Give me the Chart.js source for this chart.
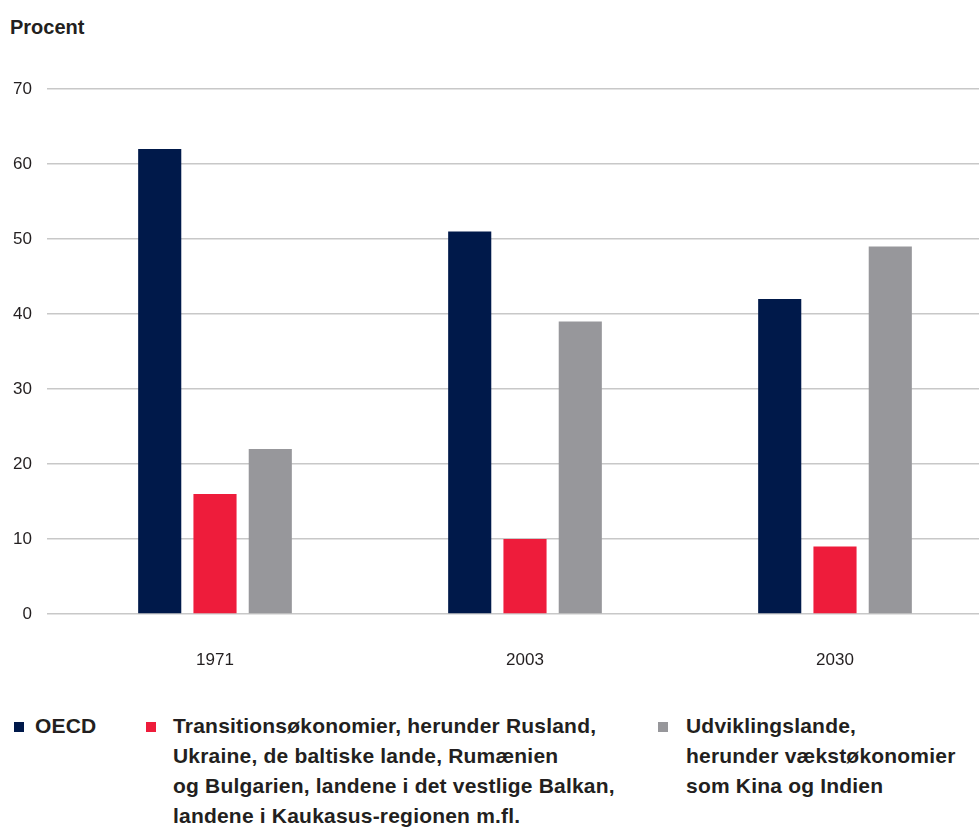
<!DOCTYPE html>
<html>
<head>
<meta charset="utf-8">
<script src="https://cdn.jsdelivr.net/npm/chart.js@4"></script>
<style>
  html, body { margin: 0; padding: 0; background: #fff; overflow: hidden; }
  body { width: 979px; height: 827px; position: relative; font-family: "Liberation Sans", Arial, sans-serif; color: #231f20; }
  #title { position: absolute; left: 10px; top: 16px; font-weight: bold; font-size: 20px; }
  #chart { position: absolute; left: 0; top: 0; }
  .item { position: absolute; top: 711px; font-weight: bold; font-size: 21px; line-height: 30px; letter-spacing: 0.2px; }
  .box { position: absolute; top: 11px; width: 10px; height: 10px; }
</style>
</head>
<body>
<div id="title">Procent</div>
<canvas id="chart" width="990" height="680"></canvas>
<div id="legend"></div>
<script>
// Data
const years = ['1971', '2003', '2030'];
const oecd = [62, 51, 42];
const transition = [16, 10, 9];
const developing = [22, 39, 49];
const yTicks = [0, 10, 20, 30, 40, 50, 60, 70];

const seriesNames = [
    'OECD',
    'Transitionsøkonomier, herunder Rusland,\nUkraine, de baltiske lande, Rumænien\nog Bulgarien, landene i det vestlige Balkan,\nlandene i Kaukasus-regionen m.fl.',
    'Udviklingslande,\nherunder vækstøkonomier\nsom Kina og Indien'
];
const seriesColors = ['#00194a', '#ee1c3b', '#97979b'];
const seriesData = [oecd, transition, developing];

// legend is laid out by hand below the chart, like the original
const legendLeft = [14, 146, 658];
const legend = document.getElementById('legend');
seriesNames.forEach((name, i) => {
    const item = document.createElement('div');
    item.className = 'item';
    item.style.left = legendLeft[i] + 'px';
    item.style.paddingLeft = (i === 2 ? 28 : (i === 1 ? 27 : 21)) + 'px';
    const box = document.createElement('span');
    box.className = 'box';
    box.style.left = '0px';
    box.style.background = seriesColors[i];
    item.appendChild(box);
    name.split('\n').forEach((line, k) => {
        if (k) item.appendChild(document.createElement('br'));
        item.appendChild(document.createTextNode(line));
    });
    legend.appendChild(item);
});

const ctx = document.getElementById('chart').getContext('2d');
new Chart(ctx, {
    type: 'bar',
    data: {
        labels: years,
        datasets: seriesData.map((d, i) => ({
            label: seriesNames[i],
            data: d,
            backgroundColor: seriesColors[i],
            borderWidth: 0,
            categoryPercentage: 0.535,
            barPercentage: 0.78
        }))
    },
    options: {
        responsive: false,
        animation: false,
        layout: {
            padding: { top: 89, left: 0, right: 0, bottom: 0 }
        },
        plugins: {
            legend: { display: false },
            title: { display: false },
            tooltip: { enabled: false }
        },
        scales: {
            x: {
                grid: { display: false, drawTicks: false },
                border: { display: false },
                afterFit: function(scale) {
                    scale.height = 66;
                },
                ticks: {
                    padding: 36,
                    color: '#231f20',
                    font: { family: 'Liberation Sans', size: 17 }
                }
            },
            y: {
                min: 0,
                max: 70,
                afterBuildTicks: function(scale) {
                    scale.ticks = yTicks.map(v => ({ value: v }));
                },
                afterFit: function(scale) {
                    scale.width = 60;
                },
                border: { display: false },
                grid: {
                    color: '#c8c8c8',
                    lineWidth: 1.5,
                    tickLength: 13
                },
                ticks: {
                    padding: 15,
                    color: '#231f20',
                    font: { family: 'Liberation Sans', size: 17 }
                }
            }
        }
    }
});
</script>
</body>
</html>
